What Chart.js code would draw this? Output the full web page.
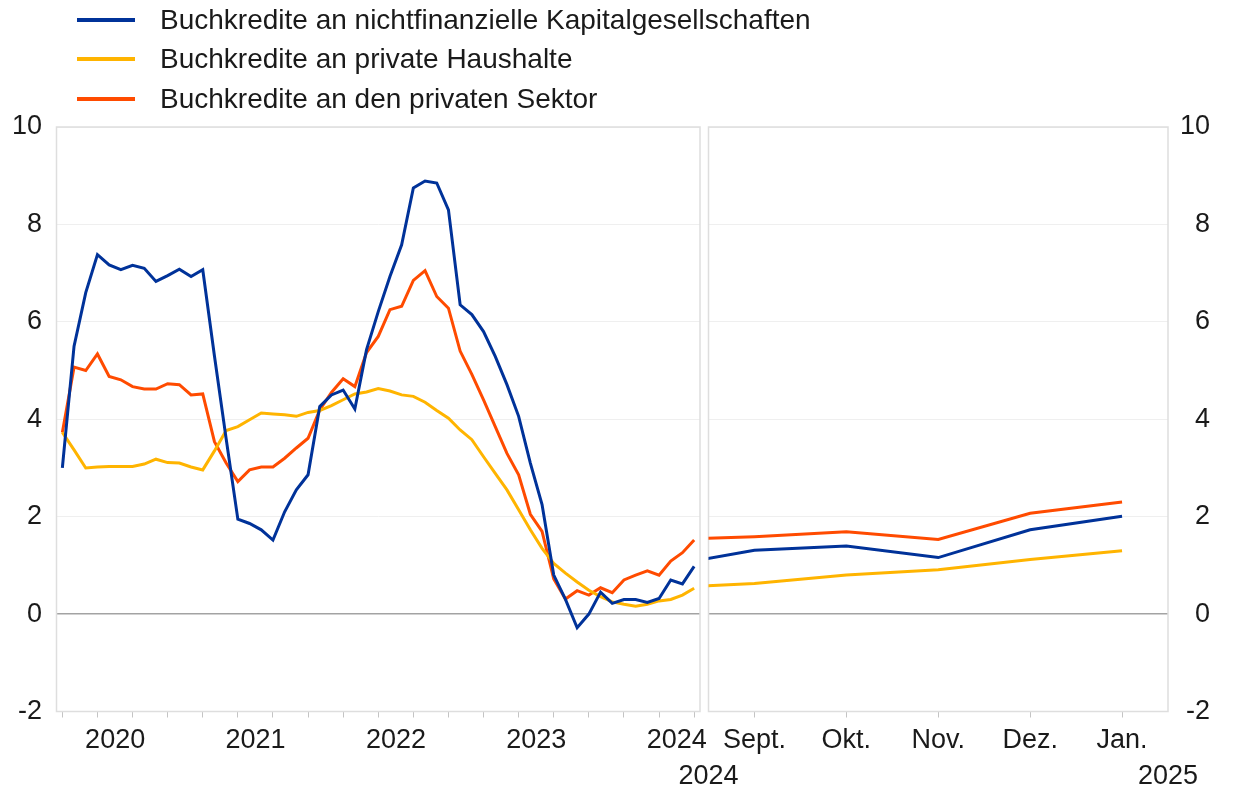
<!DOCTYPE html>
<html>
<head>
<meta charset="utf-8">
<script src="https://cdn.jsdelivr.net/npm/chart.js@4.4.1/dist/chart.umd.min.js"></script>
<style>
  body { margin: 0; background: #fff; font-family: "Liberation Sans", Arial, sans-serif; }
  #wrap { position: relative; width: 1237px; height: 789px; overflow: hidden; }
  .pane { position: absolute; top: 0; height: 789px; }
  #legend { position: absolute; left: 77px; top: 0; }
  .legend-row { display: flex; align-items: center; height: 39.5px; font-size: 28px; color: #1a1a1a; white-space: nowrap; }
  .legend-mark { width: 58px; height: 4px; margin-right: 25px; }
</style>
</head>
<body>
<div id="wrap">
  <div class="pane" style="left:0;width:720px"><canvas id="leftChart"></canvas></div>
  <div class="pane" style="left:640px;width:597px"><canvas id="rightChart"></canvas></div>
  <div id="legend"></div>
</div>
<script>
// series names / colours
const seriesNames = [
  'Buchkredite an nichtfinanzielle Kapitalgesellschaften',
  'Buchkredite an private Haushalte',
  'Buchkredite an den privaten Sektor'
];
const seriesColors = ['#003299', '#ffb400', '#ff4b00'];

// left panel: monthly, Feb 2020 - Aug 2024
const months = [
  '2020-02','2020-03','2020-04','2020-05','2020-06','2020-07','2020-08','2020-09','2020-10','2020-11','2020-12',
  '2021-01','2021-02','2021-03','2021-04','2021-05','2021-06','2021-07','2021-08','2021-09','2021-10','2021-11','2021-12',
  '2022-01','2022-02','2022-03','2022-04','2022-05','2022-06','2022-07','2022-08','2022-09','2022-10','2022-11','2022-12',
  '2023-01','2023-02','2023-03','2023-04','2023-05','2023-06','2023-07','2023-08','2023-09','2023-10','2023-11','2023-12',
  '2024-01','2024-02','2024-03','2024-04','2024-05','2024-06','2024-07','2024-08'
];
const nfcLoans = [
  3.0, 5.5, 6.6, 7.38, 7.17, 7.07, 7.16, 7.1, 6.83, 6.95, 7.08,
  6.93, 7.07, 5.3, 3.6, 1.95, 1.86, 1.73, 1.52, 2.1, 2.55, 2.86, 4.26,
  4.5, 4.6, 4.21, 5.43, 6.21, 6.93, 7.58, 8.75, 8.89, 8.85, 8.3, 6.35,
  6.15, 5.8, 5.29, 4.71, 4.06, 3.1, 2.25, 0.8, 0.3, -0.28, 0.0, 0.45,
  0.22, 0.3, 0.3, 0.24, 0.32, 0.7, 0.62, 0.98
];
const hhLoans = [
  3.73, 3.37, 3.0, 3.02, 3.03, 3.03, 3.03, 3.08, 3.18, 3.11, 3.1,
  3.02, 2.96, 3.35, 3.77, 3.85, 3.99, 4.13, 4.11, 4.09, 4.06, 4.14, 4.18,
  4.28, 4.4, 4.52, 4.56, 4.63, 4.58, 4.5, 4.47, 4.35, 4.18, 4.02, 3.78,
  3.58, 3.23, 2.89, 2.55, 2.14, 1.73, 1.35, 1.04, 0.84, 0.66, 0.49, 0.36,
  0.25, 0.2, 0.16, 0.2, 0.27, 0.3, 0.39, 0.53
];
const privLoans = [
  3.73, 5.07, 5.0, 5.34, 4.88, 4.81, 4.67, 4.62, 4.62, 4.73, 4.71,
  4.5, 4.52, 3.54, 3.1, 2.72, 2.96, 3.02, 3.02, 3.2, 3.41, 3.61, 4.19,
  4.55, 4.83, 4.67, 5.37, 5.7, 6.25, 6.32, 6.85, 7.05, 6.52, 6.28, 5.4,
  4.92, 4.4, 3.85, 3.3, 2.86, 2.05, 1.7, 0.72, 0.31, 0.48, 0.39, 0.54,
  0.44, 0.7, 0.8, 0.89, 0.8, 1.09, 1.26, 1.52
];

// right panel: Sept 2024 - Jan 2025
const recentMonths = ['Sept.', 'Okt.', 'Nov.', 'Dez.', 'Jan.'];
const recentYears = ['2024', '2025'];
const nfcRecent = [1.31, 1.4, 1.16, 1.73, 2.01];
const hhRecent = [0.63, 0.8, 0.91, 1.12, 1.3];
const privRecent = [1.59, 1.69, 1.53, 2.07, 2.3];

const yTicks = [-2, 0, 2, 4, 6, 8, 10];

Chart.defaults.font.family = '"Liberation Sans", Arial, sans-serif';
Chart.defaults.color = '#1a1a1a';
Chart.defaults.animation = false;

const TEXT = '#1a1a1a';
const tickFont = { size: 27 };

// light box around each panel
const panelBox = {
  id: 'panelBox',
  beforeDatasetsDraw(chart) {
    const { ctx, chartArea: a } = chart;
    ctx.save();
    ctx.strokeStyle = '#dedede';
    ctx.lineWidth = 1.5;
    ctx.strokeRect(a.left, a.top, a.right - a.left, a.bottom - a.top);
    ctx.restore();
  }
};

function lineSet(label, data, color) {
  return { label, data, borderColor: color, backgroundColor: color, borderWidth: 3, pointRadius: 0, tension: 0, fill: false };
}

function yAxis(position, width) {
  return {
    position,
    min: yTicks[0],
    max: yTicks[yTicks.length - 1],
    afterBuildTicks: s => { s.ticks = yTicks.map(v => ({ value: v })); },
    ticks: { color: TEXT, font: tickFont, padding: 14.5, crossAlign: position === 'right' ? 'far' : 'near' },
    grid: {
      drawTicks: false,
      color: c => c.tick && c.tick.value === 0 ? '#a3a3a3' : '#efefef',
      lineWidth: c => c.tick && c.tick.value === 0 ? 1.5 : 1
    },
    border: { display: false },
    afterFit(s) { s.width = width; }
  };
}

const leftDatasets = [
  lineSet(seriesNames[0], nfcLoans, seriesColors[0]),
  lineSet(seriesNames[1], hhLoans, seriesColors[1]),
  lineSet(seriesNames[2], privLoans, seriesColors[2])
];

new Chart(document.getElementById('leftChart'), {
  type: 'line',
  data: { labels: months, datasets: leftDatasets },
  options: {
    responsive: true,
    maintainAspectRatio: false,
    layout: { padding: { top: 127, right: 20, bottom: 0, left: 0 } },
    plugins: { legend: { display: false }, tooltip: { enabled: false } },
    scales: {
      x: {
        type: 'category',
        offset: true,
        grid: {
          offset: false,
          drawOnChartArea: false,
          tickLength: 6,
          color: c => c.index % 3 === 0 ? '#c4c4c4' : 'rgba(0,0,0,0)'
        },
        border: { display: false },
        ticks: {
          autoSkip: false,
          maxRotation: 0,
          labelOffset: 6,
          padding: 6.5,
          color: TEXT,
          font: tickFont,
          callback: (v, i) => months[i].endsWith('-06') ? months[i].slice(0, 4) : ''
        },
        afterFit(s) { s.height = 77.5; }
      },
      y: yAxis('left', 56.5)
    }
  },
  plugins: [panelBox]
});

// right panel: previous month (Aug 2024) is kept off-scale so the lines enter from the edge
const last = arr => arr[arr.length - 1];
const rightLabels = ['Aug.'].concat(recentMonths);

new Chart(document.getElementById('rightChart'), {
  type: 'line',
  data: {
    labels: rightLabels,
    datasets: [
      lineSet(seriesNames[0], [last(nfcLoans)].concat(nfcRecent), seriesColors[0]),
      lineSet(seriesNames[1], [last(hhLoans)].concat(hhRecent), seriesColors[1]),
      lineSet(seriesNames[2], [last(privLoans)].concat(privRecent), seriesColors[2])
    ]
  },
  options: {
    responsive: true,
    maintainAspectRatio: false,
    layout: { padding: { top: 127, right: 27, bottom: 0, left: 68.5 } },
    plugins: { legend: { display: false }, tooltip: { enabled: false } },
    scales: {
      x: {
        type: 'category',
        min: 1,
        offset: true,
        weight: 0,
        grid: { offset: false, drawOnChartArea: false, tickLength: 6, color: '#c4c4c4' },
        border: { display: false },
        ticks: { autoSkip: false, maxRotation: 0, padding: 6.5, color: TEXT, font: tickFont },
        afterFit(s) { s.height = 46; }
      },
      x2: {
        type: 'category',
        position: 'bottom',
        labels: recentYears,
        min: 0,
        max: 1,
        offset: false,
        weight: 1,
        grid: { display: false, drawTicks: false },
        border: { display: false },
        ticks: { autoSkip: false, maxRotation: 0, padding: 2.5, color: TEXT, font: tickFont },
        afterFit(s) { s.height = 31.5; }
      },
      y: yAxis('right', 42)
    }
  },
  plugins: [panelBox]
});

// legend
const legend = document.getElementById('legend');
seriesNames.forEach((name, i) => {
  const row = document.createElement('div');
  row.className = 'legend-row';
  const mark = document.createElement('span');
  mark.className = 'legend-mark';
  mark.style.background = seriesColors[i];
  const txt = document.createElement('span');
  txt.textContent = name;
  row.appendChild(mark);
  row.appendChild(txt);
  legend.appendChild(row);
});
</script>
</body>
</html>
